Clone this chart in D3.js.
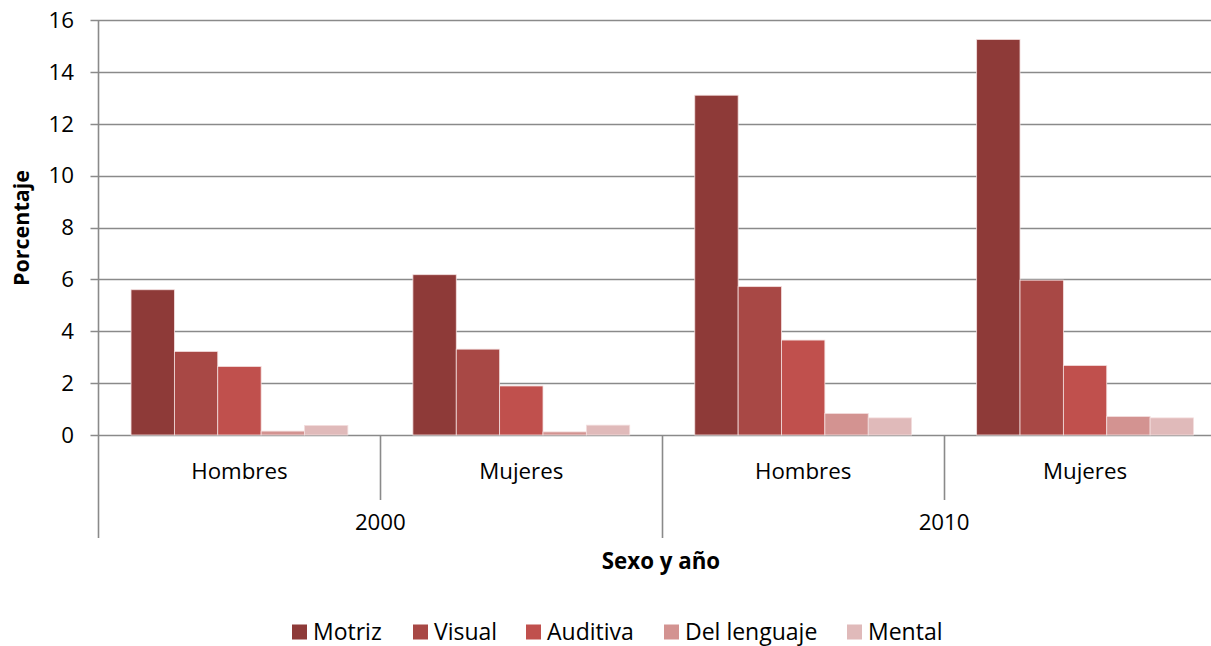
<!DOCTYPE html>
<html>
<head>
<meta charset="utf-8">
<script src="https://cdn.jsdelivr.net/npm/d3@7"></script>
<style>
  html, body { margin: 0; padding: 0; background: #fff; }
  svg { display: block; font-family: "Open Sans", Lato, sans-serif; }
</style>
</head>
<body>
<svg id="chart" width="1211" height="646"></svg>
<script>
// Series and categories
const series = ["Motriz", "Visual", "Auditiva", "Del lenguaje", "Mental"];
const colors = ["#8E3A38", "#A84845", "#C0504D", "#D39391", "#E0BABA"];
const years = ["2000", "2010"];
const sexes = ["Hombres", "Mujeres"];
const categories = ["2000 Hombres", "2000 Mujeres", "2010 Hombres", "2010 Mujeres"];

const motriz     = [5.6, 6.18, 13.1, 15.25];
const visual     = [3.22, 3.31, 5.72, 5.97];
const auditiva   = [2.64, 1.89, 3.66, 2.68];
const lenguaje   = [0.15, 0.12, 0.83, 0.71];
const mental     = [0.37, 0.38, 0.66, 0.66];
const yTicks     = [0, 2, 4, 6, 8, 10, 12, 14, 16];

const valuesBySeries = [motriz, visual, auditiva, lenguaje, mental];

const svg = d3.select("#chart");
const plotLeft = 98.5, plotRight = 1226, plotTop = 20, plotBottom = 435;
const fontSize = 22.3;
const legendFont = 23;

const x0 = d3.scaleBand().domain(categories).range([plotLeft, plotRight]).paddingInner(0).paddingOuter(0);
const x1 = d3.scaleBand().domain(series).range([0, x0.bandwidth()]).paddingOuter(0.75).paddingInner(0);
const y = d3.scaleLinear().domain([0, 16]).range([plotBottom, plotTop]);

const gridColor = "#8a8a8a";

// Horizontal gridlines
svg.append("g")
  .selectAll("line")
  .data(yTicks)
  .join("line")
  .attr("x1", plotLeft - 8).attr("x2", plotRight)
  .attr("y1", d => Math.round(y(d)) + 0.5).attr("y2", d => Math.round(y(d)) + 0.5)
  .attr("stroke", gridColor).attr("stroke-width", 1.6);

// Y tick labels
svg.append("g")
  .selectAll("text")
  .data(yTicks)
  .join("text")
  .attr("x", 74).attr("y", d => y(d))
  .attr("dy", "0.35em")
  .attr("text-anchor", "end")
  .attr("font-size", fontSize)
  .attr("fill", "#000")
  .text(d => d);

// Bars
const data = [];
categories.forEach((c, ci) => {
  series.forEach((s, si) => data.push({ c, s, si, v: valuesBySeries[si][ci] }));
});
svg.append("g")
  .selectAll("rect")
  .data(data)
  .join("rect")
  .attr("x", d => x0(d.c) + x1(d.s))
  .attr("y", d => y(d.v))
  .attr("width", x1.bandwidth())
  .attr("height", d => y(0) - y(d.v))
  .attr("fill", d => colors[d.si])
  .attr("stroke", "#f3dede")
  .attr("stroke-width", 0.8);

// Vertical axis line
svg.append("line")
  .attr("x1", plotLeft).attr("x2", plotLeft)
  .attr("y1", plotTop).attr("y2", 538)
  .attr("stroke", gridColor).attr("stroke-width", 1.6);

// Category axis dividers: short between sexes, long between years
categories.forEach((c, i) => {
  if (i === 0) return;
  const xx = Math.round(x0(c)) + 0.5;
  const long = i % 2 === 0;
  svg.append("line")
    .attr("x1", xx).attr("x2", xx)
    .attr("y1", plotBottom).attr("y2", long ? 538 : 500)
    .attr("stroke", gridColor).attr("stroke-width", 1.6);
});

// Sex labels
svg.append("g")
  .selectAll("text")
  .data(categories)
  .join("text")
  .attr("x", d => x0(d) + x0.bandwidth() / 2)
  .attr("y", 471)
  .attr("dy", "0.35em")
  .attr("text-anchor", "middle")
  .attr("font-size", fontSize)
  .text((d, i) => sexes[i % 2]);

// Year labels
svg.append("g")
  .selectAll("text")
  .data(years)
  .join("text")
  .attr("x", (d, i) => x0(categories[i * 2]) + x0.bandwidth())
  .attr("y", 522)
  .attr("dy", "0.35em")
  .attr("text-anchor", "middle")
  .attr("font-size", fontSize)
  .text(d => d);

// Axis titles
svg.append("text")
  .attr("x", 661).attr("y", 561)
  .attr("dy", "0.35em")
  .attr("text-anchor", "middle")
  .attr("font-size", fontSize).attr("font-weight", "bold")
  .text("Sexo y año");

svg.append("text")
  .attr("transform", "translate(21,228) rotate(-90)")
  .attr("dy", "0.35em")
  .attr("text-anchor", "middle")
  .attr("font-size", 21.5).attr("font-weight", "bold")
  .text("Porcentaje");

// Legend
const legendX = [292, 413, 526, 664, 847];
const legend = svg.append("g")
  .selectAll("g")
  .data(series)
  .join("g")
  .attr("transform", (d, i) => `translate(${legendX[i]},632)`);
legend.append("rect")
  .attr("x", 0).attr("y", -7.5)
  .attr("width", 15).attr("height", 15)
  .attr("fill", (d, i) => colors[i]);
legend.append("text")
  .attr("x", 21).attr("y", 0)
  .attr("dy", "0.35em")
  .attr("font-size", legendFont)
  .text(d => d);
</script>
</body>
</html>
